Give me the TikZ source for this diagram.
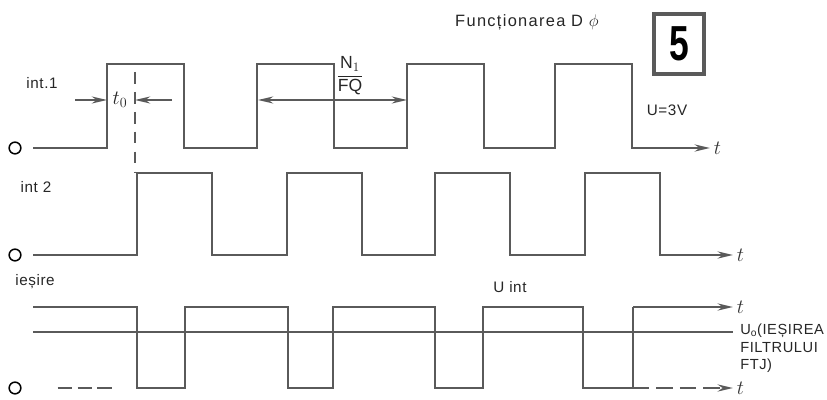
\documentclass[tikz,border=0pt]{standalone}
\usepackage{fontspec}
\usepackage{amsmath}
\setmainfont{Liberation Sans}
\usetikzlibrary{positioning, arrows.meta}
\definecolor{inkgray}{HTML}{5A5A5A}

\begin{document}
\begin{tikzpicture}[x=0.03cm, y=-0.03cm, line width=2.4pt,
    wave/.style={draw=inkgray, line join=miter},
    tip/.style={-{Stealth[length=13pt, width=6pt]}},
    thin/.style={draw=inkgray, line width=1.6pt},
    pin/.style={circle, draw=black, line width=1.3pt, inner sep=0pt, minimum size=10pt},
    lbl/.style={inner sep=1pt, font=\fontsize{13}{15}\selectfont\addfontfeature{LetterSpace=4}, text=black!85},
    tlbl/.style={inner sep=2pt, font=\fontsize{19}{19}\selectfont, text=black!80, anchor=west}]
  \useasboundingbox (0,0) rectangle (827,400);

  % terminals
  \node[pin] (c1) at (15,148) {};
  \node[pin] (c2) at (15,255) {};
  \node[pin] (c3) at (15,388) {};

  % int.1
  \draw[wave, tip] (33,148) foreach \x in {107,257,407,555}{
      -- (\x,148) -- (\x,64) -- (\x+77,64) -- (\x+77,148)} -- (710,148) coordinate (e1);
  \node[tlbl] (t1) at (e1) {$t$};

  % int 2
  \draw[wave, tip] (33,255) foreach \x in {137,287,435,585}{
      -- (\x,255) -- (\x,173) -- (\x+75,173) -- (\x+75,255)} -- (733,255) coordinate (e2);
  \node[tlbl] (t2) at (e2) {$t$};

  % iesire
  \draw[wave] (33,307) foreach \a/\b in {137/185,288/333,435/483,583/633}{
      -- (\a,307) -- (\a,388) -- (\b,388) -- (\b,307)} coordinate (o1);
  \draw[wave, tip] (o1) -- (733,307) coordinate (e3);
  \node[tlbl] (t3) at (e3) {$t$};
  \coordinate (o2) at (633,388);
  \draw[wave, tip, dash pattern=on 14pt off 6pt] (o2) -- (733,388) coordinate (e4);
  \node[tlbl] (t4) at (e4) {$t$};
  \draw[wave, dash pattern=on 12pt off 5pt] (c3.east) ++(36,0) -- ++(58,0);

  % filter output
  \coordinate (m0) at (33,332);
  \draw[wave] (m0) -- (733,332) coordinate (m1);
  \node[lbl, anchor=north west, align=left, font=\fontsize{12.5}{15}\selectfont\addfontfeature{LetterSpace=4}]
    (uo) at ([xshift=4pt, yshift=9pt]m1) {U\textsubscript{o}(IEȘIREA\\FILTRULUI\\FTJ)};

  % t0 marks
  \coordinate (r1) at (107,100);
  \coordinate (d1) at (135,100);
  \draw[thin, dash pattern=on 10pt off 7pt] (135,72) -- (135,173);
  \draw[thin, tip] (75,100) -- (r1);
  \draw[thin, tip] (172,100) -- (d1);
  \node[lbl, font=\fontsize{17}{17}\selectfont] (t0) at (120,100) {$t_0$};

  % period
  \coordinate (p1) at (258,100);
  \coordinate (p2) at (407,100);
  \draw[thin, {Stealth[length=13pt, width=6pt]}-{Stealth[length=13pt, width=6pt]}] (p1) -- (p2);
  \node[lbl, font=\fontsize{15}{15}\selectfont] (per) at (350,76) {$\dfrac{\text{N}_1}{\text{FQ}}$};

  % labels
  \node[lbl] (l1) at (42,83) {int.1};
  \node[lbl] (l2) at (36,187) {int 2};
  \node[lbl] (l3) at (35,282) {ieșire};
  \node[lbl] (uv) at (667,110) {U=3V};
  \node[lbl] (ui) at (510,287) {U int};
  \node[lbl, font=\fontsize{14}{16}\selectfont\addfontfeature{LetterSpace=8}] (ttl) at (527,22) {Funcționarea D $\phi$};
  \node[draw=inkgray, line width=2.6pt, minimum width=1.5cm, minimum height=1.8cm, inner sep=0pt,
    font=\fontsize{42}{42}\selectfont\bfseries] (nr) at (679,44) {\scalebox{0.72}[1]{5}};
\end{tikzpicture}
\end{document}
